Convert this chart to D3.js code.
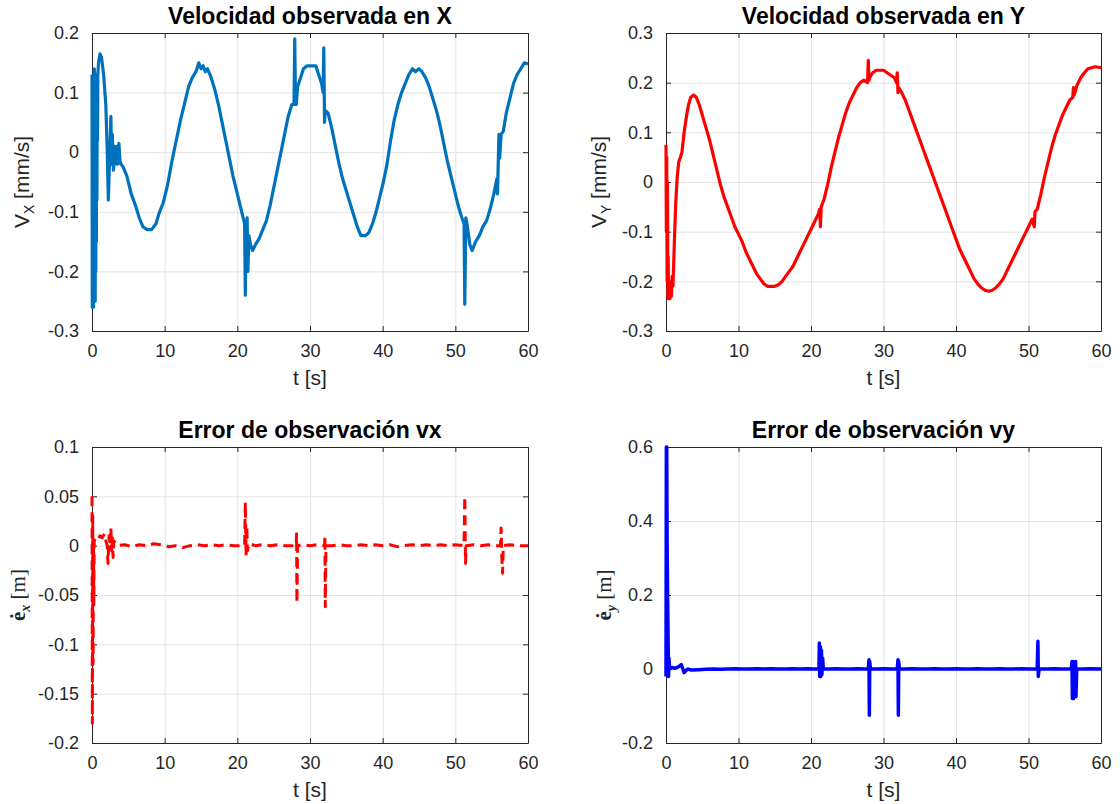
<!DOCTYPE html>
<meta charset="utf-8">
<style>
body { margin: 0; background: #fff; }
svg text { font-family: "Liberation Sans", Arial, Helvetica, sans-serif; fill: #262626; }
.title { font-weight: bold; font-size: 23px; fill: #000; text-anchor: middle; }
.tick text { font-size: 18px; }
.xlabel { font-size: 21px; text-anchor: middle; }
.ylabel { font-size: 21px; text-anchor: middle; }
.ylabel-tex { font-family: "Liberation Serif", "DejaVu Serif", serif; font-size: 21px; text-anchor: middle; }
</style>
<body>
<svg width="1120" height="804"></svg>
<script src="https://cdnjs.cloudflare.com/ajax/libs/d3/7.8.5/d3.min.js"></script>
<script>
// tick values
var tTicks = [0, 10, 20, 30, 40, 50, 60];
var vxTicks = [-0.3, -0.2, -0.1, 0, 0.1, 0.2];
var vyTicks = [-0.3, -0.2, -0.1, 0, 0.1, 0.2, 0.3];
var exTicks = [-0.2, -0.15, -0.1, -0.05, 0, 0.05, 0.1];
var eyTicks = [-0.2, 0, 0.2, 0.4, 0.6];

// velocidad observada en X  [t, v]
var velX = [[0,0.13],[0.04,-0.26],[0.08,0.12],[0.12,-0.25],[0.16,0.13],[0.2,-0.26],[0.24,0.12],[0.28,-0.24],
  [0.32,0.14],[0.36,-0.22],[0.4,0.12],[0.44,-0.25],[0.48,0.13],[0.52,-0.2],[0.56,0.12],[0.6,-0.15],
  [0.64,0.13],[0.68,-0.08],[0.72,0.12],[0.76,0.02],[0.8,0.13],[0.9,0.15],
  [1.1,0.165],[1.3,0.16],[1.6,0.13],[1.9,0.08],[2.1,0.0],[2.25,-0.08],[2.35,-0.04],[2.45,0.0],[2.6,0.06],
  [2.7,-0.02],[2.8,0.03],[2.95,-0.03],[3.1,0.01],[3.25,-0.02],[3.4,0.01],[3.55,-0.02],[3.7,0.015],[3.85,-0.015],
  [4.0,-0.02],[4.3,-0.025],[4.8,-0.04],[5.4,-0.07],[6.0,-0.09],[6.5,-0.11],[7.0,-0.125],[7.6,-0.13],[8.2,-0.13],
  [8.8,-0.12],[9.3,-0.1],[9.8,-0.085],[10.4,-0.055],[11.0,-0.015],[11.6,0.02],[12.2,0.055],[12.8,0.085],
  [13.3,0.11],[13.8,0.125],[14.3,0.135],[14.7,0.15],[15.0,0.14],[15.3,0.145],[15.6,0.135],[15.9,0.14],
  [16.4,0.125],[16.9,0.105],[17.4,0.08],[17.9,0.05],[18.4,0.02],[18.9,-0.01],[19.4,-0.04],[19.9,-0.065],
  [20.4,-0.09],[20.8,-0.11],[21.0,-0.12],[21.1,-0.24],[21.2,-0.13],[21.35,-0.11],[21.45,-0.2],[21.6,-0.14],
  [21.8,-0.155],[22.1,-0.165],[22.5,-0.155],[23.0,-0.145],[23.5,-0.13],[24.0,-0.115],[24.5,-0.09],[25.0,-0.06],
  [25.5,-0.03],[26.0,0.0],[26.5,0.03],[27.0,0.06],[27.5,0.08],[27.8,0.08],[27.9,0.19],[28.0,0.09],[28.1,0.08],
  [28.3,0.11],[28.7,0.125],[29.1,0.14],[29.6,0.145],[30.2,0.145],[30.8,0.145],[31.2,0.13],[31.6,0.115],
  [31.8,0.1],[31.9,0.175],[32.0,0.05],[32.1,0.07],[32.5,0.065],[33.0,0.04],[33.5,0.01],[34.0,-0.02],
  [34.5,-0.045],[35.0,-0.065],[35.5,-0.085],[36.0,-0.105],[36.5,-0.125],[37.0,-0.14],[37.6,-0.14],[38.1,-0.135],
  [38.6,-0.12],[39.1,-0.1],[39.6,-0.075],[40.1,-0.05],[40.6,-0.02],[41.1,0.02],[41.6,0.055],[42.1,0.08],
  [42.6,0.1],[43.1,0.115],[43.6,0.13],[44.1,0.14],[44.5,0.135],[45.0,0.14],[45.4,0.135],[45.9,0.125],
  [46.4,0.11],[46.9,0.09],[47.4,0.07],[47.9,0.045],[48.4,0.015],[48.9,-0.015],[49.4,-0.04],[49.9,-0.065],
  [50.4,-0.09],[50.9,-0.11],[51.2,-0.12],[51.3,-0.255],[51.45,-0.11],[51.6,-0.12],[52.0,-0.155],[52.3,-0.165],
  [52.8,-0.15],[53.3,-0.14],[53.8,-0.125],[54.3,-0.115],[54.8,-0.095],[55.3,-0.07],[55.7,-0.045],[55.8,-0.07],
  [55.9,-0.02],[56.0,0.03],[56.1,-0.01],[56.3,0.03],[56.6,0.035],[57.0,0.065],[57.5,0.09],[58.0,0.115],
  [58.5,0.13],[59.0,0.14],[59.5,0.15],[60,0.148]];

// velocidad observada en Y
var velY = [[0,0.075],[0.05,-0.1],[0.1,0.05],[0.15,-0.2],[0.2,0.0],[0.25,-0.23],[0.3,-0.15],[0.35,-0.235],
  [0.45,-0.2],[0.55,-0.235],[0.65,-0.21],[0.75,-0.23],[0.85,-0.19],[0.95,-0.21],[1.05,-0.17],[1.2,-0.1],
  [1.35,-0.04],[1.55,0.01],[1.75,0.04],[2.0,0.05],[2.2,0.06],[2.5,0.1],[2.8,0.13],[3.1,0.155],[3.4,0.17],
  [3.8,0.175],[4.2,0.17],[4.6,0.155],[5.0,0.135],[5.5,0.11],[6.0,0.085],[6.5,0.055],[7.0,0.025],[7.5,-0.005],
  [8.0,-0.03],[8.5,-0.05],[9.0,-0.07],[9.5,-0.09],[10.0,-0.105],[10.5,-0.12],[11.0,-0.14],[11.5,-0.155],
  [12.0,-0.17],[12.5,-0.185],[13.0,-0.195],[13.5,-0.205],[14.0,-0.21],[14.5,-0.21],[15.0,-0.21],[15.5,-0.207],
  [16.0,-0.2],[16.5,-0.19],[17.0,-0.18],[17.5,-0.17],[18.0,-0.155],[18.5,-0.14],[19.0,-0.125],[19.5,-0.11],
  [20.0,-0.095],[20.5,-0.08],[21.0,-0.065],[21.2,-0.055],[21.3,-0.09],[21.4,-0.05],[21.8,-0.035],[22.3,-0.005],
  [22.8,0.03],[23.3,0.06],[23.8,0.09],[24.3,0.115],[24.8,0.14],[25.3,0.16],[25.8,0.175],[26.3,0.19],
  [26.8,0.2],[27.3,0.205],[27.8,0.2],[27.9,0.245],[28.0,0.205],[28.1,0.21],[28.5,0.22],[29.0,0.225],
  [29.5,0.225],[30.0,0.225],[30.5,0.22],[31.0,0.215],[31.5,0.21],[31.8,0.2],[31.9,0.22],[32.0,0.18],
  [32.1,0.19],[32.5,0.18],[33.0,0.165],[33.5,0.145],[34.0,0.125],[34.5,0.105],[35.0,0.085],[35.5,0.065],
  [36.0,0.045],[36.5,0.025],[37.0,0.005],[37.5,-0.015],[38.0,-0.035],[38.5,-0.055],[39.0,-0.075],[39.5,-0.095],
  [40.0,-0.115],[40.5,-0.135],[41.0,-0.15],[41.5,-0.165],[42.0,-0.18],[42.5,-0.195],[43.0,-0.205],[43.5,-0.213],
  [44.0,-0.218],[44.5,-0.22],[45.0,-0.218],[45.5,-0.213],[46.0,-0.205],[46.5,-0.195],[47.0,-0.18],[47.5,-0.165],
  [48.0,-0.15],[48.5,-0.135],[49.0,-0.12],[49.5,-0.105],[50.0,-0.09],[50.5,-0.075],[50.8,-0.09],[50.9,-0.06],
  [51.2,-0.055],[51.7,-0.025],[52.2,0.01],[52.7,0.04],[53.2,0.07],[53.7,0.095],[54.2,0.115],[54.7,0.135],
  [55.2,0.15],[55.7,0.165],[56.1,0.17],[56.2,0.19],[56.3,0.175],[56.7,0.195],[57.2,0.21],[57.7,0.22],
  [58.2,0.228],[58.7,0.23],[59.2,0.232],[60,0.23]];

// error de observacion vx
var errX = [[0,0.05],[0.05,-0.18],[0.1,0.03],[0.15,-0.12],[0.2,0.0],[0.25,-0.06],[0.3,0.005],[0.5,0.008],
  [0.8,0.006],[1.1,0.01],[1.4,0.008],[1.7,0.012],[1.9,0.005],[2.1,0.0],[2.2,-0.018],[2.35,0.01],[2.5,0.0],
  [2.6,0.018],[2.7,-0.005],[2.8,0.008],[2.9,-0.012],[3.0,0.005],[3.2,0.003],[3.5,0.0],[4.5,0.001],[5.5,-0.001],
  [6.5,0.001],[7.5,0.0],[8.5,0.002],[9.5,0.001],[10.5,-0.001],[11.5,0.0],[12.5,-0.002],[13.5,0.0],[14.5,0.001],
  [15.5,0.0],[16.5,0.001],[17.5,0.0],[18.5,0.001],[19.5,0.0],[20.5,0.0],[21.0,0.0],[21.1,0.044],[21.2,-0.01],
  [21.3,0.02],[21.4,-0.005],[21.6,0.002],[22.5,0.0],[23.5,0.001],[24.5,0.0],[25.5,0.001],[26.5,0.0],[27.5,0.0],
  [28.1,0.0],[28.15,0.012],[28.2,-0.058],[28.3,0.0],[29.0,0.001],[30.0,0.0],[31.0,0.001],[32.0,0.0],
  [32.05,0.01],[32.1,-0.062],[32.2,0.0],[33.0,0.0],[34.0,0.001],[35.0,0.0],[36.0,0.0],[37.0,0.001],[38.0,0.0],
  [39.0,0.001],[40.0,0.0],[41.0,0.001],[42.0,-0.001],[43.0,0.0],[44.0,0.001],[45.0,0.0],[46.0,0.001],
  [47.0,0.0],[48.0,0.001],[49.0,0.0],[50.0,0.001],[51.2,0.0],[51.3,0.05],[51.4,-0.018],[51.5,0.0],[52.5,0.001],
  [53.5,0.0],[54.5,0.001],[55.5,0.0],[56.2,0.0],[56.3,0.018],[56.4,-0.012],[56.5,-0.028],[56.6,0.0],
  [57.5,0.001],[58.5,0.0],[60,0.0]];

// error de observacion vy
var errY = [[0,-0.02],[0.05,0.6],[0.1,0.6],[0.15,0.35],[0.2,0.24],[0.25,0.15],[0.3,0.06],[0.35,-0.02],
  [0.4,0.03],[0.5,0.0],[0.8,0.004],[1.2,0.002],[1.6,0.005],[1.9,0.008],[2.1,0.012],[2.3,0.002],[2.5,-0.01],
  [2.7,-0.005],[3.0,0.0],[3.5,-0.003],[4.5,-0.002],[5.5,-0.001],[6.5,0.0],[7.5,-0.001],[8.5,0.0],[9.5,0.001],
  [10.5,0.0],[11.5,0.0],[12.5,0.001],[13.5,0.0],[14.5,0.001],[15.5,0.0],[16.5,0.0],[17.5,0.001],[18.5,0.0],
  [19.5,0.001],[20.5,0.0],[21.1,0.0],[21.15,0.07],[21.2,-0.02],[21.3,0.06],[21.35,-0.02],[21.45,0.05],
  [21.5,-0.015],[21.6,0.03],[21.7,0.0],[22.5,0.0],[23.5,0.001],[24.5,0.0],[25.5,0.0],[26.5,0.001],[27.5,0.0],
  [27.9,0.0],[28.0,0.025],[28.05,-0.125],[28.1,0.02],[28.2,0.0],[29.0,0.0],[30.0,0.001],[31.0,0.0],[31.9,0.0],
  [32.0,0.025],[32.05,-0.125],[32.1,0.02],[32.2,0.0],[33.0,0.0],[34.0,0.001],[35.0,0.0],[36.0,0.0],[37.0,0.001],
  [38.0,0.0],[39.0,0.0],[40.0,0.001],[41.0,0.0],[42.0,0.0],[43.0,0.001],[44.0,0.0],[45.0,0.0],[46.0,0.001],
  [47.0,0.0],[48.0,0.0],[49.0,0.001],[50.0,0.0],[51.2,0.0],[51.3,0.075],[51.35,-0.02],[51.45,0.0],[52.5,0.0],
  [53.5,0.001],[54.5,0.0],[55.5,0.0],[55.9,0.0],[56.0,0.02],[56.05,-0.08],[56.15,0.02],[56.2,-0.08],
  [56.3,0.015],[56.4,-0.075],[56.5,0.02],[56.55,-0.075],[56.65,0.0],[57.5,0.0],[58.5,0.001],[60,0.0]];

var svg = d3.select("svg");
var fmt = function(d) { return d === 0 ? "0" : String(+d.toFixed(2)); };

var panels = [
  {title: "Velocidad observada en X", data: velX, yDom: [-0.3, 0.2], yTicks: vxTicks,
   left: 92, right: 528, top: 33, bottom: 331, color: "#0072BD", width: 3.2, dash: null,
   ylab: ["V", "X", " [mm/s]"], labOff: 70, tex: false},
  {title: "Velocidad observada en Y", data: velY, yDom: [-0.3, 0.3], yTicks: vyTicks,
   left: 666, right: 1101, top: 33, bottom: 331, color: "#FF0000", width: 3.2, dash: null,
   ylab: ["V", "Y", " [mm/s]"], labOff: 67, tex: false},
  {title: "Error de observación vx", data: errX, yDom: [-0.2, 0.1], yTicks: exTicks,
   left: 92, right: 528, top: 447, bottom: 743, color: "#FF0000", width: 3, dash: "10,6",
   ylab: ["ė", "x", " [m]"], labOff: 74, tex: true},
  {title: "Error de observación vy", data: errY, yDom: [-0.2, 0.6], yTicks: eyTicks,
   left: 666, right: 1101, top: 447, bottom: 743, color: "#0000FF", width: 3.5, dash: null,
   ylab: ["ė", "y", " [m]"], labOff: 62, tex: true}
];

panels.forEach(function(p) {
  var x = d3.scaleLinear().domain([0, 60]).range([p.left, p.right]);
  var y = d3.scaleLinear().domain(p.yDom).range([p.bottom, p.top]);
  var g = svg.append("g");
  var w = p.right - p.left, h = p.bottom - p.top;

  // grid
  g.append("g").attr("transform", "translate(0," + p.bottom + ")")
    .call(d3.axisBottom(x).tickValues(tTicks).tickSize(-h).tickFormat(""))
    .call(function(s) { s.select(".domain").remove(); s.selectAll("line").attr("stroke", "#e3e3e3"); });
  g.append("g").attr("transform", "translate(" + p.left + ",0)")
    .call(d3.axisLeft(y).tickValues(p.yTicks).tickSize(-w).tickFormat(""))
    .call(function(s) { s.select(".domain").remove(); s.selectAll("line").attr("stroke", "#e3e3e3"); });

  // axes with inward ticks
  var styleAx = function(s) {
    s.select(".domain").attr("stroke", "#262626");
    s.selectAll(".tick line").attr("stroke", "#262626");
  };
  g.append("g").attr("transform", "translate(0," + p.bottom + ")")
    .call(d3.axisBottom(x).tickValues(tTicks).tickSizeInner(-5).tickSizeOuter(0).tickPadding(13).tickFormat(fmt))
    .call(styleAx);
  g.append("g").attr("transform", "translate(0," + p.top + ")")
    .call(d3.axisTop(x).tickValues(tTicks).tickSizeInner(-5).tickSizeOuter(0).tickFormat(""))
    .call(styleAx);
  g.append("g").attr("transform", "translate(" + p.left + ",0)")
    .call(d3.axisLeft(y).tickValues(p.yTicks).tickSizeInner(-5).tickSizeOuter(0).tickPadding(13).tickFormat(fmt))
    .call(styleAx);
  g.append("g").attr("transform", "translate(" + p.right + ",0)")
    .call(d3.axisRight(y).tickValues(p.yTicks).tickSizeInner(-5).tickSizeOuter(0).tickFormat(""))
    .call(styleAx);
  g.selectAll(".tick text").attr("fill", "#262626").style("font-size", "18px")
    .style("font-family", "'Liberation Sans', Arial, sans-serif");

  // data line (on top of the axes)
  g.append("path").datum(p.data)
    .attr("fill", "none").attr("stroke", p.color).attr("stroke-width", p.width)
    .attr("stroke-linejoin", "round")
    .attr("stroke-dasharray", p.dash)
    .attr("d", d3.line().x(function(d) { return x(d[0]); }).y(function(d) { return y(d[1]); }));

  // title
  g.append("text").attr("class", "title")
    .attr("x", (p.left + p.right) / 2).attr("y", p.top - 9).text(p.title);

  // x label
  g.append("text").attr("class", "xlabel")
    .attr("x", (p.left + p.right) / 2).attr("y", p.bottom + 54).text("t [s]");

  // y label
  var yl = g.append("text").attr("class", p.tex ? "ylabel-tex" : "ylabel")
    .attr("transform", "translate(" + (p.left - p.labOff) + "," + ((p.top + p.bottom) / 2) + ") rotate(-90)")
    .attr("dy", "0.35em");
  yl.append("tspan").text(p.ylab[0]).style("font-weight", p.tex ? "bold" : null);
  yl.append("tspan").text(p.ylab[1]).attr("dy", 5).style("font-size", "14px")
    .style("font-style", p.tex ? "italic" : null).style("font-weight", p.tex ? "bold" : null);
  yl.append("tspan").text(p.ylab[2]).attr("dy", -5);
});
</script>
</body>
